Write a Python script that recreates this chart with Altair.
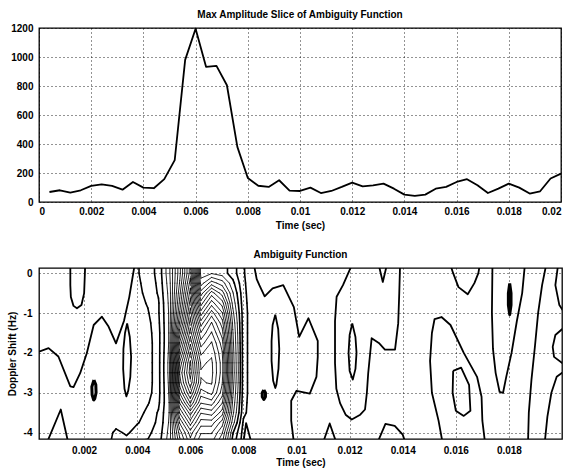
import altair as alt
import pandas as pd

FONT = "Liberation Sans"

# ---------------- top panel: max amplitude slice ----------------
slice_time = [0.0004, 0.0008, 0.0012, 0.0016, 0.0020, 0.0024, 0.0028, 0.0032, 0.0036, 0.0040,
              0.0044, 0.0048, 0.0052, 0.0056, 0.0060, 0.0064, 0.0068, 0.0072, 0.0076, 0.0080,
              0.0084, 0.0088, 0.0092, 0.0096, 0.0100, 0.0104, 0.0108, 0.0112, 0.0116, 0.0120,
              0.0124, 0.0128, 0.0132, 0.0136, 0.0140, 0.0144, 0.0148, 0.0152, 0.0156, 0.0160,
              0.0164, 0.0168, 0.0172, 0.0176, 0.0180, 0.0184, 0.0188, 0.0192, 0.0196, 0.0200]
slice_amp = [69, 81, 65, 81, 111, 122, 111, 85, 138, 99,
             95, 158, 289, 980, 1195, 932, 939, 805, 380, 165,
             112, 104, 150, 78, 76, 99, 62, 76, 104, 134,
             108, 115, 127, 92, 51, 42, 51, 92, 104, 138,
             157, 115, 62, 92, 127, 99, 58, 74, 162, 196]

top_x_ticks = [0, 0.002, 0.004, 0.006, 0.008, 0.01, 0.012, 0.014, 0.016, 0.018, 0.02]
top_y_ticks = [0, 200, 400, 600, 800, 1000, 1200]
bot_x_ticks = [0.002, 0.004, 0.006, 0.008, 0.01, 0.012, 0.014, 0.016, 0.018]
bot_y_ticks = [0, -1, -2, -3, -4]

# ---------------- bottom panel: ambiguity function ----------------
# amplitude grid of the main lobe (units of 50)
blob_x = [0.0028, 0.0032, 0.0036, 0.0040, 0.0044, 0.0048, 0.0052, 0.0056,
          0.0060, 0.0064, 0.0068, 0.0072, 0.0076, 0.0080, 0.0084]
blob_y = [0.25, 0.0, -0.25, -0.5, -0.75, -1.0, -1.25, -1.5, -1.75, -2.0,
          -2.25, -2.5, -2.75, -3.0, -3.25, -3.5, -3.75, -4.0, -4.25]
blob_rows = [
    [0, 0, 0.6, 1.4, 2.0, 2.8, 5.2, 9.2, 14, 4, 4.4, 4, 3, 1.6, 0.7],
    [0, 0, 0.6, 1.4, 2.0, 2.8, 5.2, 9.2, 14, 4, 4.4, 4, 3, 1.6, 0.7],
    [0, 0, 0.6, 1.3, 1.9, 2.7, 5.0, 9.6, 15, 5, 7, 6, 3.8, 1.7, 0.7],
    [0, 0, 0.5, 1.2, 1.8, 2.6, 4.8, 10.2, 16, 7, 10, 8, 4.6, 1.8, 0.7],
    [0, 0, 0.4, 1.1, 1.6, 2.4, 4.7, 10.8, 17, 9, 12, 10, 5.2, 1.9, 0.7],
    [0, 0, 0.3, 1.0, 1.4, 2.4, 4.6, 11.6, 18, 11, 14, 11.6, 5.8, 2.0, 0.7],
    [0, 0, 0.3, 0.9, 1.2, 2.3, 4.6, 12.6, 19, 13, 15.6, 13, 6.3, 2.0, 0.7],
    [0, 0, 0.3, 0.9, 1.1, 2.2, 4.6, 14, 20, 14.6, 16.6, 14, 6.6, 2.0, 0.7],
    [0, 0, 0.3, 0.9, 1.0, 2.2, 4.6, 15.6, 21.3, 16, 17.6, 15, 6.8, 2.0, 0.7],
    [0, 0, 0.3, 0.9, 1.0, 2.2, 4.7, 17, 22.6, 17.3, 18.3, 15.6, 7, 2.0, 0.7],
    [0, 0, 0.3, 0.9, 1.0, 2.2, 4.8, 18.6, 23.7, 18.3, 18.7, 16, 7.1, 2.0, 0.7],
    [0, 0, 0.3, 0.9, 1.0, 2.2, 4.8, 19.6, 24, 18.6, 18.8, 16, 7.2, 2.0, 0.7],
    [0, 0, 0.3, 0.9, 1.0, 2.2, 4.7, 19, 23.2, 18.4, 18.6, 15.6, 7, 2.0, 0.7],
    [0, 0, 0.3, 0.9, 1.1, 2.2, 4.6, 17.6, 21.7, 17, 17.8, 15, 6.7, 2.0, 0.7],
    [0, 0, 0.3, 0.9, 1.4, 2.3, 4.5, 15.6, 19.6, 15.6, 16, 13.6, 6.3, 1.9, 0.7],
    [0, 0.3, 0.5, 1.0, 1.8, 2.6, 4.5, 13.6, 17, 13.6, 14, 12, 5.8, 1.8, 0.7],
    [0.2, 1.0, 1.0, 1.4, 2.0, 2.7, 4.6, 11.6, 15, 12, 12, 10, 5.0, 1.3, 0.6],
    [0.8, 1.8, 1.3, 2.0, 2.3, 2.9, 4.8, 10, 13, 10.6, 10.6, 8.6, 3.6, 1.1, 0.6],
    [1.0, 2.0, 2.0, 2.6, 2.6, 3.1, 5.0, 9, 12, 9.6, 9.6, 7.6, 3.0, 1.0, 0.6],
]
contour_levels = [1.5 + i for i in range(23)]

# low-level contour lines away from the main lobe
line_B = [(0.0003, -1.97), (0.00066, -1.88), (0.00103, -2.09), (0.00148, -2.84), (0.0016, -2.86),
          (0.00185, -2.51), (0.0021, -2.01), (0.00236, -1.30), (0.00267, -1.09), (0.00292, -1.34),
          (0.0032, -1.76), (0.0035, -1.2), (0.0037, -0.6), (0.0039, 0.2)]
line_U1 = [(0.00148, 0.2), (0.00148, -0.3), (0.0015, -0.6), (0.0016, -0.82), (0.00173, -0.88),
           (0.0019, -0.8), (0.002, -0.5), (0.00204, 0.2)]
loop_A = [(0.00362, -1.26), (0.00372, -1.6), (0.00377, -2.1), (0.00374, -2.6), (0.00366, -2.95),
          (0.00359, -3.09), (0.00352, -2.9), (0.00347, -2.4), (0.00348, -1.9), (0.00354, -1.5),
          (0.00362, -1.26)]
loop_B = [(0.00237, -2.68), (0.00244, -2.8), (0.00245, -3.0), (0.0024, -3.15), (0.00236, -3.18),
          (0.0023, -3.05), (0.00229, -2.85), (0.00237, -2.68)]
peak_V1 = [(0.0006, -4.25), (0.00112, -3.42), (0.0014, -4.25)]
peak_V2 = [(0.008, -4.25), (0.0081, -3.76), (0.0083, -4.25)]
line_C = [(0.0084, 0.2), (0.0085, -0.15), (0.0086, -0.3), (0.0088, -0.58), (0.0091, -0.38),
          (0.0095, -0.3), (0.0099, -0.85), (0.0101, -1.6), (0.01045, -1.13), (0.0108, -1.7),
          (0.0108, -2.1), (0.01075, -2.6), (0.0105, -3.02), (0.0100, -2.95), (0.0098, -3.2),
          (0.0098, -3.7), (0.0099, -4.25)]
loop_C = [(0.0092, -1.04), (0.00931, -1.4), (0.00935, -1.9), (0.00932, -2.4), (0.00924, -2.8),
          (0.0092, -2.88), (0.00912, -2.7), (0.00906, -2.2), (0.00906, -1.7), (0.0091, -1.3),
          (0.0092, -1.04)]
loop_D = [(0.00877, -2.93), (0.00883, -3.0), (0.00883, -3.1), (0.00877, -3.17), (0.00871, -3.1),
          (0.00871, -3.0), (0.00877, -2.93)]
peak_V3 = [(0.011, -4.25), (0.01125, -3.77), (0.0115, -4.25)]
line_D = [(0.01208, 0.2), (0.01175, -0.3), (0.01151, -0.59), (0.01145, -1.2), (0.01145, -2.26),
          (0.0115, -2.9), (0.01164, -3.26), (0.01185, -3.55), (0.01208, -3.67), (0.0124, -3.55),
          (0.01258, -3.42), (0.01265, -3.0), (0.0127, -2.51), (0.01283, -1.63), (0.0131, -1.75),
          (0.01333, -1.92), (0.01371, -1.92), (0.01383, -1.26), (0.01387, -0.5), (0.0139, 0.2)]
loop_E = [(0.0121, -1.26), (0.01222, -1.6), (0.01226, -2.0), (0.01222, -2.4), (0.01212, -2.67),
          (0.012, -2.45), (0.01196, -2.0), (0.012, -1.55), (0.0121, -1.26)]
notch_1 = [(0.0131, 0.2), (0.01325, -0.22), (0.0134, 0.2)]
bump_1 = [(0.01305, -4.25), (0.01335, -3.78), (0.0137, -3.83), (0.014, -4.05), (0.0141, -4.25)]
line_E = [(0.0155, -4.25), (0.01535, -3.7), (0.0151, -3.0), (0.01503, -2.2), (0.0151, -1.5),
          (0.0152, -1.15), (0.01546, -1.1), (0.0158, -1.3), (0.0163, -2.0), (0.0168, -2.6),
          (0.01697, -3.1), (0.017, -3.7), (0.0171, -4.25)]
loop_F = [(0.0159, -2.45), (0.0162, -2.37), (0.0165, -2.8), (0.01655, -3.45), (0.0163, -3.58),
          (0.016, -3.45), (0.01588, -3.0), (0.0159, -2.45)]
line_U2 = [(0.0158, 0.2), (0.0159, 0.0), (0.0161, -0.35), (0.01645, -0.53), (0.0167, -0.25),
           (0.01685, 0.0), (0.0169, 0.2)]
line_F = [(0.01738, 0.2), (0.01736, -1.0), (0.0174, -1.9), (0.0175, -2.5), (0.01765, -2.98),
          (0.01778, -3.0), (0.0179, -2.6), (0.0181, -2.0), (0.0183, -1.2), (0.0185, -0.5),
          (0.0186, 0.2)]
loop_G = [(0.01803, -0.26), (0.01808, -0.5), (0.01808, -0.8), (0.01803, -1.04), (0.01798, -0.8),
          (0.01798, -0.5), (0.01803, -0.26)]
line_G = [(0.0194, 0.2), (0.01925, -0.3), (0.0191, -1.0), (0.01898, -1.84), (0.01885, -2.67),
          (0.01875, -3.5), (0.01872, -4.25)]
line_H = [(0.01985, 0.2), (0.01975, -0.3), (0.0199, -0.8), (0.0201, -1.0)]
line_I = [(0.0201, -1.35), (0.01975, -1.55), (0.01965, -1.85), (0.0197, -2.1), (0.0201, -2.3)]
line_J = [(0.01935, -4.25), (0.01945, -3.6), (0.0196, -3.0), (0.0198, -2.6), (0.0201, -2.45)]

traced = {
    "B": (line_B, 1.8), "U1": (line_U1, 1.8), "lA": (loop_A, 1.8), "lB": (loop_B, 3.0),
    "V1": (peak_V1, 1.8), "V2": (peak_V2, 1.8), "C": (line_C, 1.8), "lC": (loop_C, 1.8),
    "lD": (loop_D, 3.0), "V3": (peak_V3, 1.8), "D": (line_D, 1.8), "lE": (loop_E, 1.8),
    "N1": (notch_1, 1.8), "b1": (bump_1, 1.8), "E": (line_E, 1.8), "lF": (loop_F, 1.8),
    "U2": (line_U2, 1.8), "F": (line_F, 1.8), "lG": (loop_G, 3.0), "G": (line_G, 1.8),
    "H": (line_H, 1.8), "I": (line_I, 1.8), "J": (line_J, 1.8),
}


def march(xs, ys, grid, level):
    segs = []
    for j in range(len(ys) - 1):
        for i in range(len(xs) - 1):
            c = [(xs[i], ys[j], grid[j][i]), (xs[i + 1], ys[j], grid[j][i + 1]),
                 (xs[i + 1], ys[j + 1], grid[j + 1][i + 1]), (xs[i], ys[j + 1], grid[j + 1][i])]
            pts = []
            for e in range(4):
                x0, y0, v0 = c[e]
                x1, y1, v1 = c[(e + 1) % 4]
                if (v0 >= level) != (v1 >= level):
                    t = (level - v0) / (v1 - v0)
                    pts.append((x0 + t * (x1 - x0), y0 + t * (y1 - y0)))
                else:
                    pts.append(None)
            got = [p for p in pts if p is not None]
            if len(got) == 2:
                segs.append((got[0], got[1]))
            elif len(got) == 4:
                centre = sum(v for _, _, v in c) / 4.0
                if (centre >= level) == (c[0][2] >= level):
                    segs.append((pts[0], pts[1]))
                    segs.append((pts[2], pts[3]))
                else:
                    segs.append((pts[3], pts[0]))
                    segs.append((pts[1], pts[2]))
    return segs


rows = []
for lv in contour_levels:
    for (a, b) in march(blob_x, blob_y, blob_rows, lv + 0.001):
        rows.append({"x": a[0], "y": a[1], "x2": b[0], "y2": b[1],
                     "w": 1.6 if lv < 4 else 0.85})
seg_df = pd.DataFrame(rows)

line_rows = []
for name, (pts, w) in traced.items():
    for k, (px, py) in enumerate(pts):
        line_rows.append({"x": px, "y": py, "line": name, "ord": k, "w": w})
line_df = pd.DataFrame(line_rows)

xs_b = alt.Scale(domain=[0.0003, 0.02], nice=False, zero=False)
ys_b = alt.Scale(domain=[-4.16, 0.13], nice=False, zero=False)

bx_axis = alt.Axis(values=bot_x_ticks, labelExpr="format(datum.value, '.3~f')",
                   title="Time (sec)", titlePadding=2, labelPadding=6)
by_axis = alt.Axis(values=bot_y_ticks, title="Doppler Shift (Hz)",
                   labelExpr="datum.value < 0 ? '-' + format(-datum.value, 'd') : format(datum.value, 'd')",
                   labelPadding=7, titlePadding=6)

segs = alt.Chart(seg_df).mark_rule(color="black", strokeCap="round", clip=True).encode(
    x=alt.X("x:Q", scale=xs_b, axis=bx_axis),
    y=alt.Y("y:Q", scale=ys_b, axis=by_axis),
    x2="x2:Q", y2="y2:Q",
    strokeWidth=alt.StrokeWidth("w:Q", scale=None, legend=None),
)

lines = alt.Chart(line_df).mark_line(color="black", clip=True, strokeJoin="round").encode(
    x=alt.X("x:Q", scale=xs_b),
    y=alt.Y("y:Q", scale=ys_b),
    detail="line:N",
    order="ord:Q",
    strokeWidth=alt.StrokeWidth("w:Q", scale=None, legend=None),
)

bottom = alt.layer(segs, lines).properties(
    width=523, height=171,
    title=alt.TitleParams("Ambiguity Function", offset=8),
)

top = alt.Chart(pd.DataFrame({"t": slice_time, "a": slice_amp})).mark_line(
    color="black", strokeWidth=1.8, strokeJoin="round").encode(
    x=alt.X("t:Q", scale=alt.Scale(domain=[0, 0.02], nice=False, zero=False),
            axis=alt.Axis(values=top_x_ticks, labelExpr="format(datum.value, '.3~f')",
                          title="Time (sec)", titlePadding=4, labelPadding=4)),
    y=alt.Y("a:Q", scale=alt.Scale(domain=[0, 1200], nice=False),
            axis=alt.Axis(values=top_y_ticks, title=None, labelPadding=6,
                          labelExpr="format(datum.value, 'd')")),
).properties(
    width=522, height=174,
    title=alt.TitleParams("Max Amplitude Slice of Ambiguity Function", offset=3),
)

chart = alt.vconcat(top, bottom, spacing=18).properties(
    padding={"left": 6, "top": 9, "right": 8, "bottom": 2},
    background="white",
).configure_axis(
    labelFont=FONT, labelFontSize=10, labelFontWeight="bold", labelColor="black",
    titleFont=FONT, titleFontSize=10, titleFontWeight="bold", titleColor="black",
    domain=False, ticks=False, grid=True, gridColor="black", gridDash=[1, 3],
    gridWidth=1, gridOpacity=0.85,
).configure_view(
    stroke="black", strokeWidth=1.3,
).configure_title(
    font=FONT, fontSize=10, fontWeight="bold", color="black", anchor="middle",
)

chart.save("out.html", embed_options={"renderer": "svg", "actions": False})
